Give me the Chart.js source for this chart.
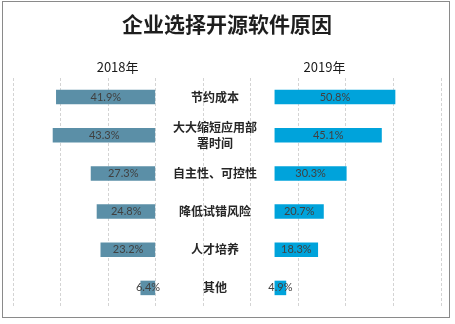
<!DOCTYPE html>
<html>
<head>
<meta charset="utf-8">
<script src="https://cdn.jsdelivr.net/npm/chart.js@4/dist/chart.umd.min.js"></script>
<style>
  html, body { margin: 0; padding: 0; background: #fff; }
  #wrap { position: relative; width: 455px; height: 324px; }
  #frame { position: absolute; left: 2px; top: 1px; width: 448px; height: 317px; border: 1.5px solid #8a8a8a; box-sizing: border-box; pointer-events: none; }
</style>
</head>
<body>
<div id="wrap">
  <canvas id="myChart" width="455" height="324"></canvas>
  <div id="frame"></div>
</div>
<script>
// categorias e valores (%)
var categorias = ['节约成本', ['大大缩短应用部', '署时间'], '自主性、可控性', '降低试错风险', '人才培养', '其他'];
var anos = ['2018年', '2019年'];
var valores2018 = [41.9, 43.3, 27.3, 24.8, 23.2, 6.4];
var valores2019 = [50.8, 45.1, 30.3, 20.7, 18.3, 4.9];
// espaco do meio onde ficam os nomes das categorias
var espaco = [50, 50, 50, 50, 50, 50];
var ticksX = { min: -60, max: 120, step: 20 };

var cor2018 = '#5b8fa7';
var cor2019 = '#00a3db';

// desenha titulo, anos, nomes e rotulos dos valores
var textos = {
    id: 'textos',
    afterDatasetsDraw(chart) {
        var c = chart.ctx;
        var x = chart.scales.x;
        var y = chart.scales.y;
        c.save();
        c.textAlign = 'center';
        c.textBaseline = 'middle';

        c.fillStyle = '#1e1e1e';
        c.font = 'bold 21px "Noto Sans CJK SC"';
        c.fillText('企业选择开源软件原因', 227, 24);

        c.fillStyle = '#1a1a1a';
        c.font = '13px "Noto Sans CJK SC"';
        c.fillText(anos[0], x.getPixelForValue(-16), 67);
        c.fillText(anos[1], x.getPixelForValue(71), 67);

        categorias.forEach((cat, i) => {
            var cy = y.getPixelForValue(i);
            var cx = x.getPixelForValue(espaco[i] / 2);
            c.fillStyle = '#262626';
            c.font = 'bold 12px "Noto Sans CJK SC"';
            if (Array.isArray(cat)) {
                c.fillText(cat[0], cx, cy - 8);
                c.fillText(cat[1], cx, cy + 8);
            } else {
                c.fillText(cat, cx, cy);
            }

            c.fillStyle = '#404040';
            c.font = '11px Lato';
            var v1 = valores2018[i];
            c.fillText(v1.toFixed(1) + '%', x.getPixelForValue(-v1 / 2), cy);
            var v2 = valores2019[i];
            c.fillText(v2.toFixed(1) + '%', x.getPixelForValue(espaco[i] + v2 / 2), cy);
        });
        c.restore();
    }
};

var ctx = document.getElementById('myChart').getContext('2d');
var myChart = new Chart(ctx, {
    type: 'bar',
    data: {
        labels: categorias,
        datasets: [{
            label: anos[0],
            data: valores2018.map(v => -v),
            backgroundColor: cor2018,
            stack: 's'
        }, {
            label: 'espaco',
            data: espaco,
            backgroundColor: 'rgba(0,0,0,0)',
            stack: 's'
        }, {
            label: anos[1],
            data: valores2019,
            backgroundColor: cor2019,
            stack: 's'
        }]
    },
    options: {
        indexAxis: 'y',
        responsive: false,
        animation: false,
        events: [],
        barPercentage: 0.38,
        categoryPercentage: 1,
        layout: { padding: { left: 13, right: 14, top: 78, bottom: 17 } },
        plugins: {
            legend: { display: false },
            title: { display: false },
            tooltip: { enabled: false }
        },
        scales: {
            x: {
                stacked: true,
                min: ticksX.min,
                max: ticksX.max,
                ticks: { display: false, stepSize: ticksX.step },
                grid: { color: '#d4d4d4', lineWidth: 1, drawTicks: false },
                border: { display: false, dash: [3, 2] }
            },
            y: {
                stacked: true,
                display: false
            }
        }
    },
    plugins: [textos]
});
</script>
</body>
</html>
